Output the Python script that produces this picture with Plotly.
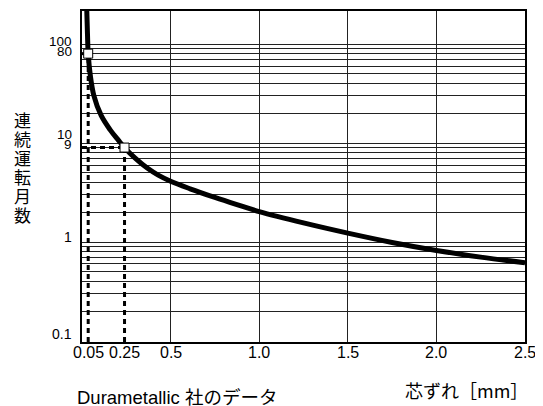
import math
import plotly.graph_objects as go

# ---- data ----
curve_x = [0.026, 0.031, 0.035, 0.047, 0.067, 0.108, 0.159, 0.205, 0.24, 0.30, 0.37, 0.43,
           0.50, 0.61, 0.75, 0.87, 1.00, 1.25, 1.50, 1.75, 2.00, 2.25, 2.50]
curve_y = [250, 125, 80, 48, 30.2, 19.0, 13.6, 10.7, 9.0, 7.03, 5.55, 4.74,
           4.11, 3.45, 2.82, 2.40, 2.03, 1.56, 1.23, 0.99, 0.822, 0.704, 0.618]

point_x = [0.035, 0.24]
point_y = [80, 9]

x_tick_vals = [0.035, 0.24, 0.5, 1.0, 1.5, 2.0, 2.5]
x_tick_text = ["0.05", "0.25", "0.5", "1.0", "1.5", "2.0", "2.5"]
x_grid_vals = [0.5, 1.0, 1.5, 2.0]

y_grid_vals = [m * 10 ** e for e in (-1, 0, 1) for m in range(1, 10)] + [100]
y_label_vals = [100, 80, 10, 9, 1, 0.1]
y_label_text = ["100", "80", "10", "9", "1", "0.1"]

y_title = "連続運転月数"
x_title = "芯ずれ［mm］"
source_note = "Durametallic 社のデータ"

# ---- styles ----
y_label_shift = [3, 2, 9, 3, 5, 7]
y_label_size = [13.5, 13.5, 13.5, 13.5, 14, 14]
YRANGE = [-1.01, 2.334]
LATIN = "Liberation Sans, Arial, Noto Sans CJK JP"
CJK = "Noto Sans CJK JP, Liberation Sans"

fig = go.Figure()

y_bottom = 10 ** YRANGE[0]
for px_, py_ in zip(point_x, point_y):
    fig.add_trace(go.Scatter(x=[px_, px_], y=[y_bottom, py_], mode="lines",
                             line=dict(color="black", width=3, dash="5px,4px"),
                             hoverinfo="skip", showlegend=False))
    fig.add_trace(go.Scatter(x=[0, px_], y=[py_, py_], mode="lines",
                             line=dict(color="black", width=3, dash="5px,4px"),
                             hoverinfo="skip", showlegend=False))

fig.add_trace(go.Scatter(x=curve_x, y=curve_y, mode="lines",
                         line=dict(color="black", width=5, shape="spline", smoothing=1.0),
                         showlegend=False))

fig.add_trace(go.Scatter(x=point_x, y=point_y, mode="markers",
                         marker=dict(symbol="square", size=9, color="white",
                                     line=dict(color="black", width=1)),
                         showlegend=False))

# page body adds an 8px offset, so the figure is sized to fill the window
fig.update_layout(
    width=535, height=398,
    margin=dict(l=74, r=18, t=1, b=64),
    paper_bgcolor="white", plot_bgcolor="white",
    showlegend=False,
    xaxis=dict(range=[0, 2.5], tickmode="array", tickvals=x_tick_vals,
               showticklabels=False, showgrid=False, zeroline=False, ticks="",
               showline=True, mirror=True, linecolor="black", linewidth=1.5,
               minor=dict(tickmode="array", tickvals=x_grid_vals, showgrid=True,
                          gridcolor="#222", gridwidth=1, ticks="")),
    yaxis=dict(type="log", range=YRANGE, tickmode="array", tickvals=y_grid_vals,
               showticklabels=False, showgrid=True, gridcolor="#222", gridwidth=1,
               zeroline=False, ticks="",
               showline=True, mirror=True, linecolor="black", linewidth=1.5),
)

for v, t in zip(x_tick_vals, x_tick_text):
    fig.add_annotation(x=v, xref="x", y=0, yref="paper", text=t, showarrow=False,
                       xanchor="center", yanchor="middle", yshift=-10,
                       font=dict(family=LATIN, size=16, color="black"))

for v, t, s, fs in zip(y_label_vals, y_label_text, y_label_shift, y_label_size):
    fig.add_annotation(x=0, xref="paper", y=math.log10(v), yref="y", text=t,
                       showarrow=False, xanchor="right", yanchor="middle",
                       xshift=-8, yshift=s,
                       font=dict(family=LATIN, size=fs, color="black"))

for i, ch in enumerate(y_title):
    fig.add_annotation(x=0, xref="paper", y=1, yref="paper", text=ch, showarrow=False,
                       xanchor="center", yanchor="middle", xshift=-59.5, yshift=-108 - 19 * i,
                       font=dict(family=CJK, size=17, color="black"))

fig.add_annotation(x=1, xref="paper", y=0, yref="paper", text=x_title, showarrow=False,
                   xanchor="right", yanchor="middle", xshift=5, yshift=-48,
                   font=dict(family=CJK, size=18, color="black"))

fig.add_annotation(x=0, xref="paper", y=0, yref="paper", text=source_note, showarrow=False,
                   xanchor="left", yanchor="middle", xshift=-7, yshift=-55,
                   font=dict(family=LATIN, size=18.5, color="black"))

fig.write_html("out.html")
